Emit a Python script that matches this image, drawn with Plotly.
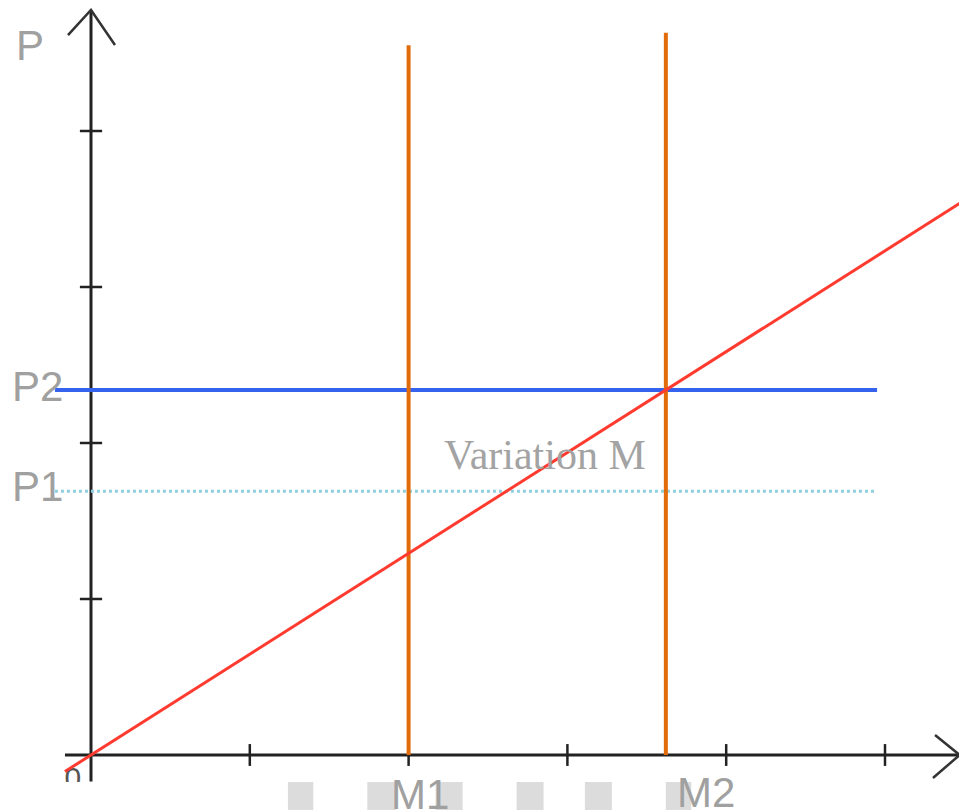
import plotly.graph_objects as go

# ---- data (in axis units; one unit = one tick step) ----
x_ticks = [1, 2, 3, 4, 5]
y_ticks = [1, 2, 3, 4]
M1 = 2.0
M2 = 3.62
P1 = 1.69
P2 = 2.34
slope = P2 / M2
red_x = [-0.164, 5.52]
m1_top = 4.55
m2_top = 4.63
hline_x = [-0.227, 4.95]
p1_x = [-0.227, 4.94]
x_axis_x = [-0.164, 5.47]
y_axis_y = [-0.17, 4.776]
y_arrow_x = [-0.145, 0.0, 0.151]
y_arrow_y = [4.615, 4.776, 4.551]
x_arrow_x = [5.315, 5.47, 5.302]
x_arrow_y = [0.128, 0.0, -0.147]
wm_x0 = [1.24, 1.74, 2.17, 2.68, 3.11, 3.62]
wm_x1 = [1.40, 1.92, 2.34, 2.85, 3.28, 3.78]
wm_y1 = [-0.173, -0.173, -0.173, -0.173, -0.173, -0.173]

# page body has an 8px margin: figure spans page pixels 8..967 x 8..810
XR = [(8 - 91) / 158.8, (967 - 91) / 158.8]
YR = [(755 - 810) / 156, (755 - 8) / 156]

fig = go.Figure()

def seg(xs, ys, color, width, dash="solid"):
    fig.add_trace(go.Scatter(x=xs, y=ys, mode="lines", hoverinfo="skip",
                             line=dict(color=color, width=width, dash=dash)))

# watermark blocks at the bottom
for a, b, c in zip(wm_x0, wm_x1, wm_y1):
    fig.add_shape(type="rect", x0=a, x1=b, y0=YR[0] - 0.1, y1=c,
                  fillcolor="#dcdcdc", line=dict(width=0), layer="below")

# "0" label, partially hidden at the bottom
fig.add_trace(go.Scatter(x=[-0.115], y=[-0.165], mode="text", text=["0"],
                         textfont=dict(family="Liberation Sans", size=30, color="#555555"),
                         textposition="middle center", hoverinfo="skip"))
fig.add_shape(type="rect", x0=-0.35, x1=-0.03, y0=YR[0] - 0.1, y1=-0.173,
              fillcolor="white", line=dict(width=0), layer="above")

# axes
seg(x_axis_x, [0, 0], "#222222", 3)
seg([0, 0], y_axis_y, "#222222", 3)
seg(y_arrow_x, y_arrow_y, "#333333", 2.5)
seg(x_arrow_x, x_arrow_y, "#333333", 2.5)
for t in x_ticks:
    seg([t, t], [-0.07, 0.07], "#222222", 2.5)
for t in y_ticks:
    seg([-0.07, 0.07], [t, t], "#222222", 2.5)

# price lines
seg(p1_x, [P1, P1], "#8fd0e0", 3, "dot")
seg(hline_x, [P2, P2], "#3563ee", 4)
# vertical M lines
seg([M1, M1], [0, m1_top], "#e36c0a", 4)
seg([M2, M2], [0, m2_top], "#e36c0a", 4)
# red line
seg(red_x, [slope * v for v in red_x], "#ff3b30", 3)

# texts
lab = dict(family="Liberation Sans, Arial", size=42, color="#a0a0a0")
annos = [
    ("P", -0.384, 4.551),
    ("P2", -0.34, 2.36),
    ("P1", -0.34, 1.72),
    ("M1", 2.07, -0.25),
    ("M2", 3.87, -0.24),
]
for t, x, y in annos:
    fig.add_annotation(x=x, y=y, text=t, showarrow=False, font=lab,
                       xanchor="center", yanchor="middle")
fig.add_annotation(x=2.86, y=1.92, text="Variation M", showarrow=False,
                   font=dict(family="Liberation Serif, serif", size=42, color="#a3a3a3"),
                   xanchor="center", yanchor="middle")

fig.update_layout(
    width=959, height=802, margin=dict(l=0, r=0, t=0, b=0),
    paper_bgcolor="white", plot_bgcolor="white", showlegend=False,
    xaxis=dict(range=XR, visible=False, fixedrange=True),
    yaxis=dict(range=YR, visible=False, fixedrange=True),
)
fig.write_html("out.html")
